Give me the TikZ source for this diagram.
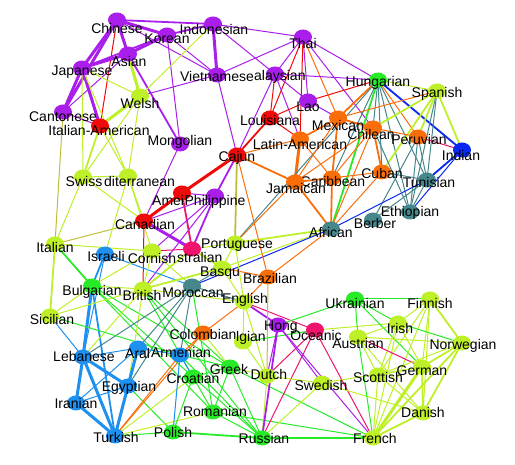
\documentclass[tikz,border=0pt]{standalone}
\usepackage{fontspec}
\setmainfont{Liberation Sans}
\usetikzlibrary{shapes.geometric}
\definecolor{cP}{RGB}{170,30,235}
\definecolor{cR}{RGB}{240,10,10}
\definecolor{cO}{RGB}{250,110,10}
\definecolor{cG}{RGB}{40,235,40}
\definecolor{cY}{RGB}{190,240,40}
\definecolor{cB}{RGB}{10,40,240}
\definecolor{cT}{RGB}{70,135,140}
\definecolor{cS}{RGB}{30,145,240}
\definecolor{cK}{RGB}{240,20,110}
\definecolor{cL}{RGB}{190,190,60}
\tikzset{
  dot/.style={ellipse,minimum width=18pt,minimum height=15pt,inner sep=0pt,draw=none},
  lab/.style={inner sep=0pt,font=\fontsize{14}{16}\selectfont,text=black},
  w1/.style={line width=1pt},
  w2/.style={line width=1.8pt},
  w3/.style={line width=3pt},
  P1/.style={draw=cP,w1},P2/.style={draw=cP,w2},P3/.style={draw=cP,w3},
  R1/.style={draw=cR,w1},R2/.style={draw=cR,w2},R3/.style={draw=cR,w3},
  O1/.style={draw=cO,w1},O2/.style={draw=cO,w2},O3/.style={draw=cO,w3},
  G1/.style={draw=cG,w1},G2/.style={draw=cG,w2},
  Y1/.style={draw=cY,w1},Y2/.style={draw=cY,w2},Y3/.style={draw=cY,w3},
  B1/.style={draw=cB,w1},B2/.style={draw=cB,w2},
  T1/.style={draw=cT,w1},
  S1/.style={draw=cS,w1},S2/.style={draw=cS,w2},S3/.style={draw=cS,w3},
  K1/.style={draw=cK,w1},K2/.style={draw=cK,w2},
  L1/.style={draw=cL,w1},L2/.style={draw=cL,w2}
}
\newcommand\nd[5]{\node[dot,fill=#2] (#1-d) at (#1) {};\node[lab] (#1-l) at (#3,#4) {#5};}
\newcommand\ndw[5]{\node[dot,fill=#2] (#1-d) at (#1) {};\node[lab,anchor=west] (#1-l) at (#3,#4) {#5};}
\begin{document}
\begin{tikzpicture}[x=1pt,y=-1pt]
\useasboundingbox (0,0) rectangle (515,465);
% coordinates
\coordinate (chinese) at (117,20);
\coordinate (indonesian) at (213,24);
\coordinate (korean) at (167,35);
\coordinate (asian) at (128,54);
\coordinate (japanese) at (82,68);
\coordinate (vietnamese) at (217,75);
\coordinate (malaysian) at (275,74);
\coordinate (thai) at (303,37);
\coordinate (hungarian) at (378,80);
\coordinate (spanish) at (437,91);
\coordinate (cantonese) at (63,112);
\coordinate (italam) at (100,126);
\coordinate (welsh) at (140,96);
\coordinate (mongolian) at (180,144);
\coordinate (louisiana) at (270,118);
\coordinate (lao) at (308,101);
\coordinate (mexican) at (338,118);
\coordinate (chilean) at (373,128);
\coordinate (peruvian) at (418,137);
\coordinate (indian) at (462,150);
\coordinate (latam) at (300,139);
\coordinate (cajun) at (237,155);
\coordinate (caribbean) at (332,178);
\coordinate (jamaican) at (295,182);
\coordinate (cuban) at (382,172);
\coordinate (tunisian) at (427,180);
\coordinate (ethiopian) at (410,212);
\coordinate (berber) at (373,220);
\coordinate (african) at (331,229);
\coordinate (swiss) at (83,177);
\coordinate (mediterranean) at (128,176);
\coordinate (american) at (182,193);
\coordinate (philippine) at (215,196);
\coordinate (canadian) at (144,221);
\coordinate (italian) at (55,244);
\coordinate (israeli) at (105,254);
\coordinate (cornish) at (152,251);
\coordinate (australian) at (192,249);
\coordinate (portuguese) at (235,243);
\coordinate (basque) at (222,268);
\coordinate (brazilian) at (268,277);
\coordinate (bulgarian) at (92,286);
\coordinate (british) at (143,289);
\coordinate (moroccan) at (192,286);
\coordinate (english) at (244,302);
\coordinate (sicilian) at (50,316);
\coordinate (colombian) at (203,333);
\coordinate (belgian) at (243,342);
\coordinate (hongkong) at (278,325);
\coordinate (oceanic) at (315,330);
\coordinate (ukrainian) at (355,299);
\coordinate (finnish) at (430,299);
\coordinate (irish) at (398,323);
\coordinate (austrian) at (358,337);
\coordinate (norwegian) at (462,343);
\coordinate (lebanese) at (83,357);
\coordinate (arab) at (138,348);
\coordinate (armenian) at (180,355);
\coordinate (greek) at (230,367);
\coordinate (croatian) at (193,377);
\coordinate (egyptian) at (128,386);
\coordinate (iranian) at (76,403);
\coordinate (romanian) at (213,412);
\coordinate (turkish) at (115,436);
\coordinate (polish) at (173,432);
\coordinate (russian) at (262,438);
\coordinate (dutch) at (267,376);
\coordinate (swedish) at (322,383);
\coordinate (french) at (373,438);
\coordinate (danish) at (423,413);
\coordinate (german) at (422,367);
\coordinate (scottish) at (378,375);
% ---------- edges ----------
% east asian cluster
\draw[P3] (chinese) -- (korean);
\draw[P2] (chinese) -- (indonesian);
\draw[P3] (chinese) -- (asian);
\draw[P3] (chinese) -- (japanese);
\draw[P3] (chinese) -- (cantonese);
\draw[P1] (chinese) -- (vietnamese);
\draw[R1] (chinese) -- (italam);
\draw[P3] (korean) -- (asian);
\draw[P2] (korean) -- (indonesian);
\draw[P2] (korean) -- (japanese);
\draw[P1] (korean) -- (vietnamese);
\draw[P1] (korean) -- (mongolian);
\draw[P3] (asian) -- (japanese);
\draw[P1] (asian) -- (cantonese);
\draw[P2] (asian) -- (mongolian);
\draw[P3] (japanese) -- (cantonese);
\draw[P3] (japanese) -- (italam);
\draw[P3] (indonesian) -- (vietnamese);
\draw[P1] (indonesian) -- (thai);
\draw[P1] (indonesian) -- (malaysian);
\draw[P1] (vietnamese) -- (thai);
\draw[P1] (vietnamese) -- (welsh);
\draw[P1] (vietnamese) -- (cajun);
\draw[P1] (mongolian) -- (canadian);
\draw[Y3] (asian) -- (welsh);
\draw[Y1] (indonesian) -- (welsh);
\draw[Y1] (japanese) -- (welsh);
\draw[Y3] (welsh) -- (italam);
\draw[Y1] (japanese) -- (swiss);
\draw[Y1] (japanese) -- (mediterranean);
\draw[Y2] (italam) -- (swiss);
\draw[Y1] (italam) -- (mediterranean);
\draw[Y1] (welsh) -- (swiss);
\draw[Y1] (welsh) -- (mediterranean);
\draw[L1] (cantonese) -- (italian);
\draw[P1] (cantonese) -- (italam);
% thai / malaysian / louisiana
\draw[P1] (thai) -- (malaysian);
\draw[P1] (thai) -- (lao);
\draw[R1] (thai) -- (louisiana);
\draw[R1] (thai) -- (latam);
\draw[O1] (thai) -- (mexican);
\draw[P1] (thai) -- (chilean);
\draw[P1] (thai) -- (hungarian);
\draw[P1] (malaysian) -- (hungarian);
\draw[P1] (malaysian) -- (lao);
\draw[P1] (malaysian) -- (latam);
\draw[P1] (malaysian) -- (cajun);
\draw[R1] (malaysian) -- (louisiana);
\draw[R2] (louisiana) -- (cajun);
\draw[R1] (louisiana) -- (latam);
\draw[R1] (louisiana) -- (lao);
\draw[R1] (lao) -- (hungarian);
\draw[P1] (lao) -- (mexican);
% latin / caribbean
\draw[O1] (latam) -- (cajun);
\draw[O3] (latam) -- (jamaican);
\draw[O1] (latam) -- (caribbean);
\draw[O2] (latam) -- (mexican);
\draw[O2] (hungarian) -- (mexican);
\draw[T1] (hungarian) -- (chilean);
\draw[O1] (hungarian) -- (peruvian);
\draw[T1] (hungarian) -- (cuban);
\draw[G2] (hungarian) -- (african);
\draw[B2] (hungarian) -- (indian);
\draw[Y1] (hungarian) -- (spanish);
\draw[T1] (hungarian) -- (tunisian);
\draw[T1] (hungarian) -- (ethiopian);
\draw[T1] (hungarian) -- (caribbean);
\draw[T1] (hungarian) -- (portuguese);
\draw[O1] (spanish) -- (mexican);
\draw[Y2] (spanish) -- (chilean);
\draw[Y2] (spanish) -- (peruvian);
\draw[Y2] (spanish) -- (indian);
\draw[T1] (spanish) -- (tunisian);
\draw[T1] (spanish) -- (ethiopian);
\draw[Y2] (spanish) -- (cuban);
\draw[K1] (peruvian) -- (indian);
\draw[T1] (peruvian) -- (tunisian);
\draw[T1] (peruvian) -- (ethiopian);
\draw[T1] (peruvian) -- (berber);
\draw[O1] (peruvian) -- (chilean);
\draw[B2] (indian) -- (tunisian);
\draw[B1] (indian) -- (ethiopian);
\draw[T1] (tunisian) -- (ethiopian);
\draw[T1] (tunisian) -- (berber);
\draw[B1] (tunisian) -- (african);
\draw[T1] (cuban) -- (tunisian);
\draw[O2] (chilean) -- (mexican);
\draw[O2] (chilean) -- (cuban);
\draw[O1] (chilean) -- (caribbean);
\draw[O1] (chilean) -- (african);
\draw[O1] (chilean) -- (jamaican);
\draw[T1] (chilean) -- (ethiopian);
\draw[O2] (mexican) -- (caribbean);
\draw[O1] (mexican) -- (jamaican);
\draw[O1] (cuban) -- (african);
\draw[O1] (cuban) -- (caribbean);
\draw[O2] (caribbean) -- (jamaican);
\draw[O2] (caribbean) -- (african);
\draw[O2] (jamaican) -- (african);
\draw[O2] (jamaican) -- (cajun);
\draw[O1] (jamaican) -- (portuguese);
\draw[Y2] (african) -- (portuguese);
\draw[O1] (african) -- (brazilian);
\draw[Y1] (african) -- (basque);
\draw[B1] (african) -- (moroccan);
\draw[O1] (cajun) -- (brazilian);
\draw[L2] (cajun) -- (portuguese);
\draw[R3] (cajun) -- (american);
\draw[P2] (cajun) -- (philippine);
% left middle
\draw[R3] (american) -- (canadian);
\draw[P1] (american) -- (philippine);
\draw[K2] (american) -- (australian);
\draw[P3] (canadian) -- (australian);
\draw[R1] (canadian) -- (british);
\draw[L1] (canadian) -- (italian);
\draw[Y1] (canadian) -- (swiss);
\draw[Y1] (canadian) -- (mediterranean);
\draw[P1] (canadian) -- (philippine);
\draw[P2] (philippine) -- (australian);
\draw[P1] (philippine) -- (cornish);
\draw[P1] (philippine) -- (british);
\draw[K1] (australian) -- (cornish);
\draw[Y2] (australian) -- (basque);
\draw[Y1] (australian) -- (portuguese);
\draw[Y2] (australian) -- (british);
\draw[Y1] (swiss) -- (mediterranean);
\draw[Y1] (swiss) -- (italian);
\draw[Y1] (mediterranean) -- (israeli);
\draw[Y1] (mediterranean) -- (cornish);
\draw[Y1] (italian) -- (cornish);
\draw[G2] (italian) -- (bulgarian);
\draw[Y2] (italian) -- (sicilian);
\draw[S2] (israeli) -- (bulgarian);
\draw[S1] (israeli) -- (moroccan);
\draw[S1] (israeli) -- (lebanese);
\draw[Y1] (cornish) -- (british);
\draw[Y1] (cornish) -- (bulgarian);
\draw[Y1] (cornish) -- (moroccan);
\draw[S3] (bulgarian) -- (lebanese);
\draw[Y1] (bulgarian) -- (british);
\draw[Y1] (bulgarian) -- (sicilian);
\draw[S2] (bulgarian) -- (turkish);
\draw[G1] (bulgarian) -- (greek);
\draw[G1] (bulgarian) -- (croatian);
\draw[G1] (bulgarian) -- (romanian);
\draw[Y1] (british) -- (sicilian);
\draw[Y2] (british) -- (basque);
\draw[Y1] (british) -- (english);
\draw[G1] (british) -- (croatian);
\draw[G1] (british) -- (greek);
\draw[G1] (british) -- (russian);
\draw[Y1] (british) -- (lebanese);
\draw[Y1] (british) -- (egyptian);
\draw[T1] (moroccan) -- (lebanese);
\draw[T1] (moroccan) -- (egyptian);
\draw[T1] (moroccan) -- (basque);
\draw[T1] (moroccan) -- (armenian);
\draw[T1] (moroccan) -- (english);
\draw[T1] (moroccan) -- (arab);
\draw[G1] (moroccan) -- (romanian);
\draw[Y1] (basque) -- (portuguese);
\draw[Y1] (basque) -- (english);
\draw[O1] (basque) -- (brazilian);
\draw[O1] (english) -- (brazilian);
\draw[P2] (english) -- (hongkong);
\draw[K1] (english) -- (oceanic);
\draw[Y1] (english) -- (dutch);
\draw[Y1] (english) -- (belgian);
\draw[Y1] (english) -- (portuguese);
\draw[O1] (english) -- (colombian);
\draw[L1] (brazilian) -- (dutch);
% middle-east cluster
\draw[S1] (sicilian) -- (lebanese);
\draw[G1] (sicilian) -- (armenian);
\draw[S3] (lebanese) -- (iranian);
\draw[S3] (lebanese) -- (turkish);
\draw[S3] (lebanese) -- (egyptian);
\draw[S1] (lebanese) -- (arab);
\draw[S3] (arab) -- (egyptian);
\draw[S2] (arab) -- (turkish);
\draw[S1] (arab) -- (armenian);
\draw[S1] (arab) -- (iranian);
\draw[S3] (egyptian) -- (turkish);
\draw[S1] (egyptian) -- (iranian);
\draw[G1] (egyptian) -- (polish);
\draw[S3] (iranian) -- (turkish);
\draw[G1] (turkish) -- (polish);
\draw[O1] (turkish) -- (colombian);
\draw[O1] (turkish) -- (armenian);
\draw[Y1] (turkish) -- (romanian);
\draw[Y1] (turkish) -- (croatian);
\draw[O1] (armenian) -- (colombian);
\draw[S1] (armenian) -- (croatian);
\draw[G1] (armenian) -- (greek);
\draw[S1] (armenian) -- (polish);
\draw[G1] (armenian) -- (russian);
\draw[G1] (croatian) -- (greek);
\draw[G1] (croatian) -- (romanian);
\draw[G1] (croatian) -- (russian);
\draw[G1] (croatian) -- (polish);
\draw[G1] (greek) -- (romanian);
\draw[G1] (greek) -- (russian);
\draw[G1] (greek) -- (french);
\draw[Y1] (greek) -- (dutch);
\draw[G1] (romanian) -- (russian);
\draw[G1] (romanian) -- (french);
\draw[G2] (polish) -- (russian);
\draw[Y1] (colombian) -- (greek);
\draw[Y1] (belgian) -- (dutch);
\draw[G1] (belgian) -- (oceanic);
% lower right
\draw[G2] (russian) -- (french);
\draw[Y1] (russian) -- (dutch);
\draw[P2] (russian) -- (hongkong);
\draw[K1] (russian) -- (oceanic);
\draw[Y1] (russian) -- (swedish);
\draw[P1] (dutch) -- (hongkong);
\draw[K1] (dutch) -- (oceanic);
\draw[Y1] (dutch) -- (swedish);
\draw[P1] (hongkong) -- (swedish);
\draw[P1] (hongkong) -- (french);
\draw[K1] (oceanic) -- (french);
\draw[Y1] (oceanic) -- (irish);
\draw[G1] (ukrainian) -- (hongkong);
\draw[Y1] (swedish) -- (danish);
\draw[G1] (ukrainian) -- (finnish);
\draw[G1] (ukrainian) -- (austrian);
\draw[G1] (ukrainian) -- (german);
\draw[G1] (ukrainian) -- (irish);
\draw[Y1] (finnish) -- (irish);
\draw[Y2] (finnish) -- (norwegian);
\draw[Y1] (finnish) -- (german);
\draw[Y1] (finnish) -- (scottish);
\draw[Y1] (finnish) -- (danish);
\draw[Y1] (finnish) -- (french);
\draw[G1] (irish) -- (norwegian);
\draw[Y1] (irish) -- (scottish);
\draw[Y1] (irish) -- (german);
\draw[Y1] (irish) -- (french);
\draw[Y1] (irish) -- (austrian);
\draw[K1] (austrian) -- (german);
\draw[Y1] (austrian) -- (scottish);
\draw[G1] (austrian) -- (french);
\draw[Y1] (austrian) -- (norwegian);
\draw[Y1] (austrian) -- (danish);
\draw[Y2] (norwegian) -- (german);
\draw[Y2] (norwegian) -- (danish);
\draw[Y2] (norwegian) -- (french);
\draw[Y1] (norwegian) -- (scottish);
\draw[Y2] (german) -- (danish);
\draw[Y3] (german) -- (french);
\draw[Y1] (german) -- (scottish);
\draw[Y1] (scottish) -- (french);
\draw[Y1] (scottish) -- (danish);
\draw[Y2] (danish) -- (french);
\draw[Y1] (swedish) -- (german);
% ---------- nodes ----------
\nd{chinese}{cP}{117}{28}{Chinese}
\nd{korean}{cP}{167}{39}{Korean}
\nd{indonesian}{cP}{214}{29}{Indonesian}
\nd{asian}{cP}{129}{61}{Asian}
\nd{japanese}{cP}{82}{72}{Japanese}
\nd{vietnamese}{cP}{217}{76}{Vietnamese}
\ndw{malaysian}{cP}{254}{77}{alaysian}
\nd{thai}{cP}{303}{43}{Thai}
\nd{hungarian}{cG}{378}{83}{Hungarian}
\nd{spanish}{cY}{437}{94}{Spanish}
\nd{cantonese}{cP}{63}{117}{Cantonese}
\nd{italam}{cR}{99}{130}{Italian-American}
\nd{welsh}{cY}{140}{103}{Welsh}
\nd{mongolian}{cP}{180}{142}{Mongolian}
\nd{louisiana}{cR}{270}{120}{Louisiana}
\nd{lao}{cP}{308}{107}{Lao}
\nd{mexican}{cO}{338}{125}{Mexican}
\nd{chilean}{cO}{371}{134}{Chilean}
\nd{peruvian}{cO}{419}{139}{Peruvian}
\nd{indian}{cB}{461}{155}{Indian}
\nd{latam}{cO}{300}{144}{Latin-American}
\nd{cajun}{cR}{237}{158}{Cajun}
\nd{caribbean}{cO}{333}{181}{Caribbean}
\nd{jamaican}{cO}{296}{188}{Jamaican}
\nd{cuban}{cO}{382}{173}{Cuban}
\nd{tunisian}{cT}{429}{182}{Tunisian}
\nd{ethiopian}{cT}{410}{213}{Ethiopian}
\nd{berber}{cT}{375}{223}{Berber}
\nd{african}{cT}{331}{232}{African}
\nd{swiss}{cY}{84}{181}{Swiss}
\ndw{mediterranean}{cY}{104}{181}{diterranean}
\ndw{american}{cR}{152}{200}{Amei}
\nd{philippine}{cP}{215}{202}{Philippine}
\nd{canadian}{cR}{145}{224}{Canadian}
\nd{italian}{cY}{55}{247}{Italian}
\nd{israeli}{cS}{106}{256}{Israeli}
\nd{cornish}{cY}{152}{258}{Cornish}
\ndw{australian}{cK}{177}{257}{stralian}
\nd{portuguese}{cY}{237}{245}{Portuguese}
\ndw{basque}{cY}{200}{273}{Basqu}
\nd{brazilian}{cO}{270}{278}{Brazilian}
\nd{bulgarian}{cG}{92}{292}{Bulgarian}
\nd{british}{cY}{142}{295}{British}
\nd{moroccan}{cT}{193}{293}{Moroccan}
\nd{english}{cY}{245}{300}{English}
\nd{sicilian}{cY}{52}{319}{Sicilian}
\nd{colombian}{cO}{203}{334}{Colombian}
\ndw{belgian}{cY}{236}{338}{lgian}
\ndw{hongkong}{cP}{264}{327}{Hong}
\nd{oceanic}{cK}{316}{335}{Oceanic}
\nd{ukrainian}{cG}{355}{303}{Ukrainian}
\nd{finnish}{cY}{430}{303}{Finnish}
\nd{irish}{cY}{400}{328}{Irish}
\nd{austrian}{cY}{358}{343}{Austrian}
\nd{norwegian}{cY}{463}{346}{Norwegian}
\nd{lebanese}{cS}{84}{356}{Lebanese}
\ndw{arab}{cS}{125}{353}{Aral}
\nd{armenian}{cS}{181}{352}{Armenian}
\nd{greek}{cG}{229}{369}{Greek}
\nd{croatian}{cG}{193}{378}{Croatian}
\nd{egyptian}{cS}{129}{388}{Egyptian}
\nd{iranian}{cS}{76}{403}{Iranian}
\nd{romanian}{cG}{215}{411}{Romanian}
\nd{turkish}{cS}{116}{437}{Turkish}
\nd{polish}{cG}{173}{432}{Polish}
\nd{russian}{cG}{264}{438}{Russian}
\nd{dutch}{cY}{269}{374}{Dutch}
\nd{swedish}{cY}{321}{385}{Swedish}
\nd{french}{cY}{375}{438}{French}
\nd{danish}{cY}{423}{412}{Danish}
\nd{german}{cY}{422}{371}{German}
\nd{scottish}{cY}{378}{377}{Scottish}
\end{tikzpicture}
\end{document}
